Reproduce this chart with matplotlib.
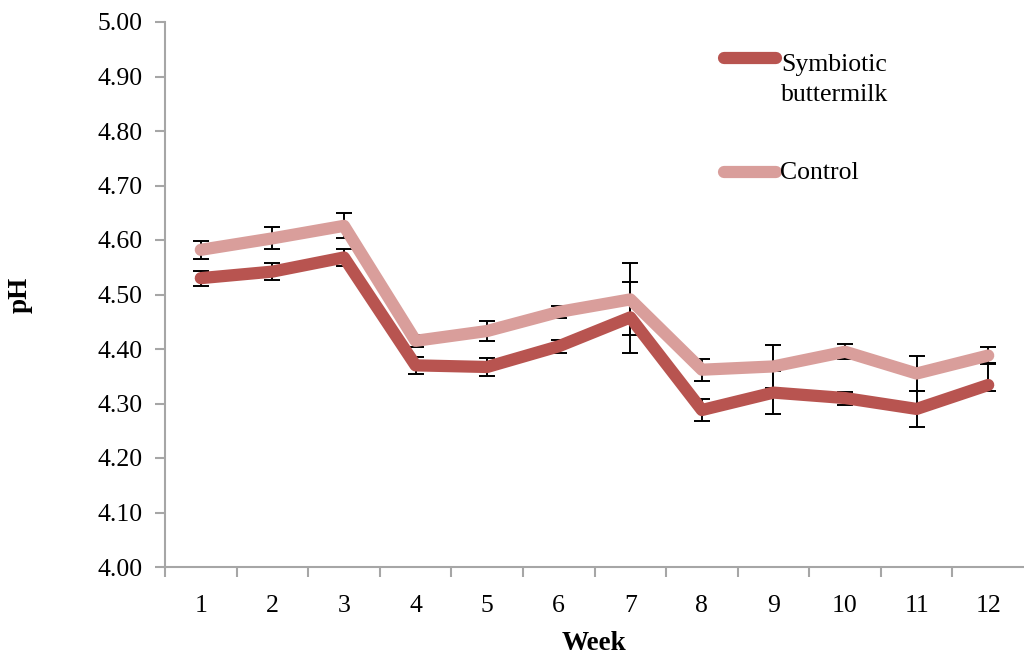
import matplotlib
matplotlib.use("Agg")
import matplotlib.pyplot as plt
from matplotlib.lines import Line2D
import numpy as np

weeks = [1, 2, 3, 4, 5, 6, 7, 8, 9, 10, 11, 12]
week_labels = [str(w) for w in weeks]

symbiotic = [4.530, 4.542, 4.568, 4.370, 4.367, 4.405, 4.458, 4.288, 4.320, 4.310, 4.290, 4.334]
symbiotic_err_low = [0.014, 0.015, 0.016, 0.016, 0.017, 0.012, 0.065, 0.020, 0.040, 0.012, 0.033, 0.011]
symbiotic_err_high = [0.014, 0.015, 0.016, 0.016, 0.017, 0.012, 0.065, 0.020, 0.040, 0.012, 0.033, 0.041]

control = [4.582, 4.603, 4.626, 4.415, 4.433, 4.468, 4.491, 4.362, 4.368, 4.395, 4.355, 4.388]
control_err = [0.017, 0.020, 0.023, 0.011, 0.019, 0.011, 0.066, 0.020, 0.039, 0.014, 0.032, 0.015]

yticks = [4.00, 4.10, 4.20, 4.30, 4.40, 4.50, 4.60, 4.70, 4.80, 4.90, 5.00]

c_sym = "#B85450"
c_ctl = "#D99E9B"
spine_c = "#A6A6A6"

plt.rcParams['font.family'] = ['Liberation Serif', 'DejaVu Serif']

fig = plt.figure(figsize=(10.24, 6.55), dpi=100)
ax = fig.add_axes([165/1024, 1-567/655, 1 - 165/1024, (567-22)/655])

x = np.array(weeks)
ax.errorbar(x, symbiotic, yerr=[symbiotic_err_low, symbiotic_err_high], fmt='none',
            ecolor='black', elinewidth=1.4, capsize=6, capthick=1.4, zorder=2)
ax.errorbar(x, control, yerr=control_err, fmt='none',
            ecolor='black', elinewidth=1.4, capsize=6, capthick=1.4, zorder=2)
ax.plot(x, symbiotic, color=c_sym, lw=8.8, solid_capstyle='round', solid_joinstyle='round', zorder=3)
ax.plot(x, control, color=c_ctl, lw=8.8, solid_capstyle='round', solid_joinstyle='round', zorder=3)

ax.set_xlim(0.5, 12.5)
ax.set_ylim(4.0, 5.0)
ax.set_yticks(yticks)
ax.set_yticklabels([f"{v:.2f}" for v in yticks], fontsize=18.5)
ax.set_xticks(x)
ax.set_xticklabels(week_labels, fontsize=18.5)
ax.set_xticks(np.arange(0.5, 12.5, 1.0), minor=True)
ax.tick_params(axis='x', which='major', length=0, pad=20)
ax.tick_params(axis='x', which='minor', length=7, width=1.5, color=spine_c, direction='out')
ax.tick_params(axis='y', which='major', length=7, width=1.5, color=spine_c, direction='out', pad=9)

for s in ['top', 'right']:
    ax.spines[s].set_visible(False)
for s in ['left', 'bottom']:
    ax.spines[s].set_color(spine_c)
    ax.spines[s].set_linewidth(1.5)

ax.set_ylabel("pH", fontsize=19.5, fontweight='bold', labelpad=47)
ax.set_xlabel("Week", fontsize=19.5, fontweight='bold', labelpad=10)

# legend (manual, Excel-style)
def fx(px):
    return px / 1024
def fy(py):
    return 1 - py / 655

fig.add_artist(Line2D([fx(724), fx(776)], [fy(58), fy(58)], color=c_sym, lw=8.8,
                      solid_capstyle='round', transform=fig.transFigure))
fig.text(fx(781), fy(80), "Symbiotic\nbuttermilk", fontsize=18.5, va='center', ha='left',
         linespacing=1.45)
fig.add_artist(Line2D([fx(724), fx(776)], [fy(172), fy(172)], color=c_ctl, lw=8.8,
                      solid_capstyle='round', transform=fig.transFigure))
fig.text(fx(780), fy(173), "Control", fontsize=18.5, va='center', ha='left')

fig.savefig("out.png", dpi=100)
